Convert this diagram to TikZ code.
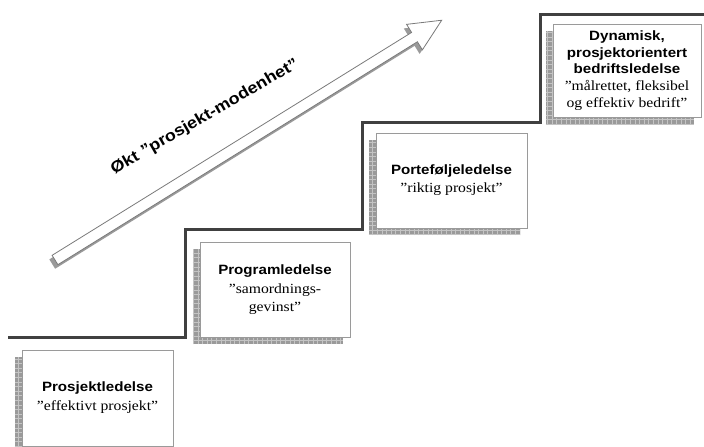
\documentclass[tikz,border=0pt]{standalone}
\usepackage{fontspec}
\setmainfont{Liberation Serif}[FakeStretch=1.12]
\newfontfamily\hsans{Liberation Sans}[FakeStretch=1.12]
\newfontfamily\hser{Liberation Serif}[FakeStretch=1.12]
\usetikzlibrary{backgrounds}
\definecolor{stair}{HTML}{404040}
\definecolor{shad}{HTML}{9A9A9A}
\definecolor{shadgrid}{HTML}{C4C4C4}
\definecolor{boxline}{HTML}{9A9A9A}
\definecolor{arrline}{HTML}{7A7A7A}
\newcommand{\ttl}[1]{{\hsans\bfseries\fontsize{13.5}{17}\selectfont #1}}
\newcommand{\sub}[1]{{\hser\fontsize{14}{17}\selectfont #1}}
\tikzset{
  stepbox/.style={draw=boxline, line width=0.8pt, fill=white, inner sep=0pt,
    align=center, font=\fontsize{14}{18}\selectfont},
  stairline/.style={draw=stair, line width=3pt, line join=miter},
  bigarrow/.style={fill=white, draw=arrline, line width=0.8pt, line join=miter},
  arrowshadow/.style={fill=shad},
}
\begin{document}
\begin{tikzpicture}[x=1pt,y=-1pt]
\useasboundingbox (0,0) rectangle (704,447);

% staircase
\draw[stairline] (8,337) -| (185,229) -| (362,122) -| (540,14) -- (704,14);

% rising arrow
\begin{scope}[shift={(55,260)}, rotate=31.8]
  \fill[arrowshadow, shift={(-4.5,2)}] (0,-5.5) -- (423,-5.5) -- (423,-15) -- (455,0) -- (423,15) -- (423,5.5) -- (0,5.5) -- cycle;
\end{scope}
\begin{scope}[shift={(55,260)}, rotate=31.8]
  \draw[bigarrow] (0,-5.5) -- (423,-5.5) -- (423,-15) -- (455,0) -- (423,15) -- (423,5.5) -- (0,5.5) -- cycle;
\end{scope}
\node[rotate=30, font=\hsans\bfseries\fontsize{16}{19}\selectfont] (lbl) at (205,117) {Økt ”prosjekt-modenhet”};

% boxes
\node[stepbox, minimum width=151pt, minimum height=96pt] (b1) at (97.5,398)
  {\ttl{Prosjektledelse}\\[1pt]\sub{”effektivt prosjekt”}};
\node[stepbox, minimum width=150pt, minimum height=95pt] (b2) at (275,289.5)
  {\ttl{Programledelse}\\[1pt]\sub{”samordnings-}\\\sub{gevinst”}};
\node[stepbox, minimum width=151pt, minimum height=95pt] (b3) at (451.5,180.5)
  {\ttl{Porteføljeledelse}\\\sub{”riktig prosjekt”}};
\node[stepbox, minimum width=148pt, minimum height=93pt, font=\fontsize{14}{16.7}\selectfont] (b4) at (627,70.5)
  {\ttl{Dynamisk,}\\\ttl{prosjektorientert}\\\ttl{bedriftsledelse}\\\sub{”målrettet, fleksibel}\\\sub{og effektiv bedrift”}};

\begin{scope}[on background layer]
  \fill[white] (0,0) rectangle (704,447);
  \foreach \n in {b1,b2,b3,b4}{
    \begin{scope}
      \clip ([shift={(-7,7)}]\n.south west) rectangle ([shift={(-7,7)}]\n.north east);
      \fill[shad] ([shift={(-7,7)}]\n.south west) rectangle ([shift={(-7,7)}]\n.north east);
      \draw[shadgrid, line width=0.6pt, step=4.6pt] ([shift={(-7,7)}]\n.south west) grid ([shift={(-7,7)}]\n.north east);
    \end{scope}
  }
\end{scope}
\end{tikzpicture}
\end{document}
